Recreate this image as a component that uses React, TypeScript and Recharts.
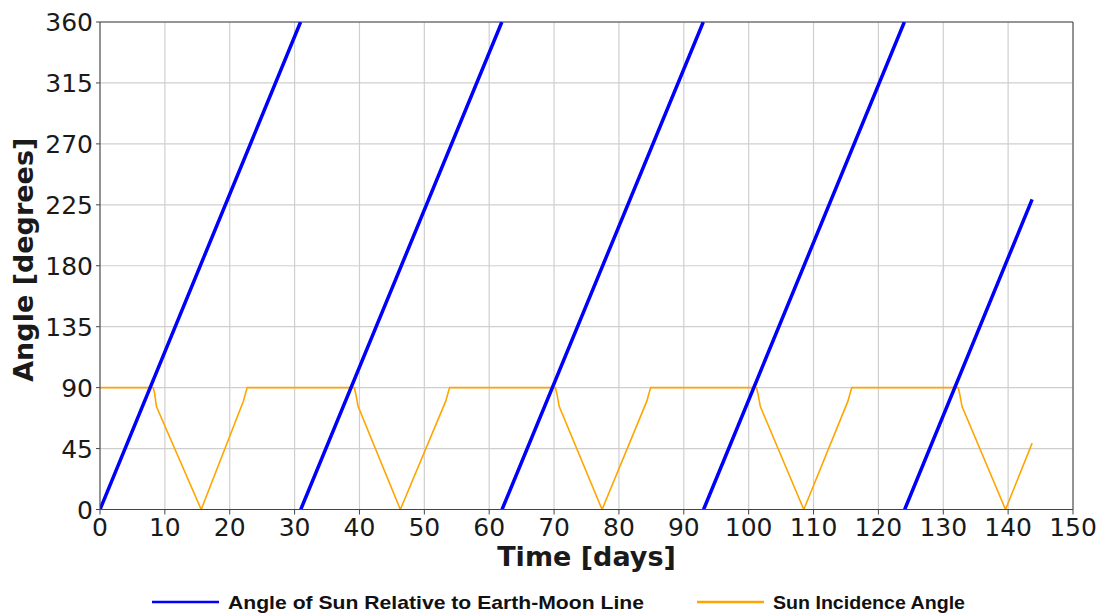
import React from "react";
import {
  LineChart,
  Line,
  XAxis,
  YAxis,
  CartesianGrid,
  ReferenceLine,
  Legend,
} from "recharts";

// Sun angle relative to the Earth-Moon line, wraps at 360 deg each synodic cycle
// (null entries split the sawtooth into separate strokes)
const sunAngleDays = [
  0, 30.92, 30.93,
  30.95, 61.95, 61.96,
  61.98, 93.0, 93.01,
  93.05, 124.0, 124.01,
  124.05, 143.7,
];
const sunAngleDeg = [
  0, 360, null,
  0, 360, null,
  0, 360, null,
  0, 360, null,
  0, 229,
];

// Sun incidence angle on the panel
const incidenceDays = [
  0, 8.2, 8.45, 8.7, 15.6, 22.1, 22.45, 22.7,
  39.2, 39.45, 39.8, 46.3, 53.3, 53.65, 53.9,
  70.2, 70.45, 70.8, 77.4, 84.3, 84.65, 84.9,
  101.2, 101.45, 101.8, 108.5, 115.3, 115.65, 115.9,
  132.3, 132.55, 132.9, 139.6, 143.7,
];
const incidenceDeg = [
  90, 90, 85, 76, 0, 80, 86, 90,
  90, 85, 76, 0, 80, 86, 90,
  90, 85, 76, 0, 80, 86, 90,
  90, 85, 76, 0, 80, 86, 90,
  90, 85, 76, 0, 49,
];

const dayTicks = [0, 10, 20, 30, 40, 50, 60, 70, 80, 90, 100, 110, 120, 130, 140, 150];
const angleTicks = [0, 45, 90, 135, 180, 225, 270, 315, 360];

const sunAngleRows = sunAngleDays.map((t, i) => ({ t, a: sunAngleDeg[i] }));
const incidenceRows = incidenceDays.map((t, i) => ({ t, a: incidenceDeg[i] }));

const SUN_COLOR = "#0000ff";
const INC_COLOR = "#ffa500";
const TEXT = "#1a1a1a";
const AXIS = "#444444";

function XTick({ x, y, payload }: any) {
  return (
    <text
      x={x}
      y={y + 21}
      textAnchor="middle"
      fontFamily="DejaVu Sans"
      fontSize={25}
      fill={TEXT}
    >
      {payload.value}
    </text>
  );
}

function YTick({ x, y, payload }: any) {
  return (
    <text
      x={x - 3}
      y={y + 9}
      textAnchor="end"
      fontFamily="DejaVu Sans"
      fontSize={25}
      fill={TEXT}
    >
      {payload.value}
    </text>
  );
}

function XTitle({ viewBox }: any) {
  const cx = viewBox.x + viewBox.width / 2;
  return (
    <text
      x={cx}
      y={viewBox.y + 56}
      textAnchor="middle"
      fontFamily="DejaVu Sans"
      fontWeight="bold"
      fontSize={27}
      fill={TEXT}
    >
      Time [days]
    </text>
  );
}

function YTitle({ viewBox }: any) {
  const cy = viewBox.y + viewBox.height / 2 - 6;
  const bx = 33;
  return (
    <text
      x={bx}
      y={cy}
      transform={`rotate(-90, ${bx}, ${cy})`}
      textAnchor="middle"
      fontFamily="DejaVu Sans"
      fontWeight="bold"
      fontSize={27}
      fill={TEXT}
    >
      Angle [degrees]
    </text>
  );
}

function LegendBox() {
  return (
    <svg width={1101} height={30} style={{ display: "block" }}>
      <line x1={152} x2={219} y1={16} y2={16} stroke={SUN_COLOR} strokeWidth={2.5} />
      <text
        x={228}
        y={22.5}
        fontFamily="Liberation Sans"
        fontWeight="bold"
        fontSize={19}
        fill="#111"
        textLength={416}
        lengthAdjust="spacingAndGlyphs"
      >
        Angle of Sun Relative to Earth-Moon Line
      </text>
      <line x1={697} x2={764} y1={16} y2={16} stroke={INC_COLOR} strokeWidth={2.5} />
      <text
        x={773}
        y={22.5}
        fontFamily="Liberation Sans"
        fontWeight="bold"
        fontSize={19}
        fill="#111"
        textLength={192}
        lengthAdjust="spacingAndGlyphs"
      >
        Sun Incidence Angle
      </text>
    </svg>
  );
}

export default function App() {
  return (
    <div style={{ position: "absolute", left: 0, top: 0, width: 1101, height: 616, background: "#fff" }}>
      <LineChart width={1101} height={616} margin={{ top: 22, right: 28, bottom: 0, left: 0 }}>
        <CartesianGrid stroke="#cfcfcf" strokeWidth={1.2} />
        <XAxis
          type="number"
          dataKey="t"
          domain={[0, 150]}
          ticks={dayTicks}
          interval={0}
          height={76.5}
          tickSize={5}
          tickMargin={0}
          stroke={AXIS}
          tick={<XTick />}
          label={<XTitle />}
          allowDataOverflow
        />
        <YAxis
          type="number"
          domain={[0, 360]}
          ticks={angleTicks}
          interval={0}
          width={100}
          tickSize={4}
          tickMargin={0}
          stroke={AXIS}
          tick={<YTick />}
          label={<YTitle />}
          allowDataOverflow
        />
        <ReferenceLine y={360} stroke={AXIS} strokeWidth={1} />
        <ReferenceLine x={150} stroke={AXIS} strokeWidth={1} />
        <Line
          data={incidenceRows}
          dataKey="a"
          name="Sun Incidence Angle"
          type="linear"
          stroke={INC_COLOR}
          strokeWidth={1.6}
          dot={false}
          isAnimationActive={false}
        />
        <Line
          data={sunAngleRows}
          dataKey="a"
          name="Angle of Sun Relative to Earth-Moon Line"
          type="linear"
          stroke={SUN_COLOR}
          strokeWidth={3.5}
          dot={false}
          connectNulls={false}
          isAnimationActive={false}
        />
        <Legend
          verticalAlign="bottom"
          content={<LegendBox />}
          wrapperStyle={{ left: 0, bottom: 0, width: 1101, height: 30 }}
        />
      </LineChart>
    </div>
  );
}
